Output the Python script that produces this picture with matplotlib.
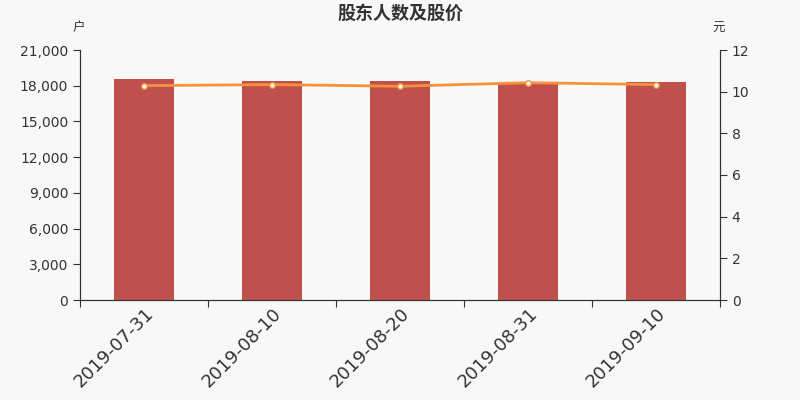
import numpy as np
import matplotlib.pyplot as plt
from matplotlib.ticker import FuncFormatter

plt.rcParams['font.family'] = ['DejaVu Sans', 'Noto Sans CJK SC']

dates = ['2019-07-31', '2019-08-10', '2019-08-20', '2019-08-31', '2019-09-10']
holders = [18560, 18400, 18370, 18250, 18310]
price = [10.29, 10.34, 10.26, 10.43, 10.34]

bg = '#f8f8f8'
axc = '#333333'
cjk = ['Noto Sans CJK SC', 'DejaVu Sans']

fig = plt.figure(figsize=(8, 4), dpi=100, facecolor=bg)
ax = fig.add_axes([0.1, 0.25, 0.8, 0.625])
ax.set_facecolor(bg)
x = np.arange(len(dates))
ax.bar(x, holders, width=0.47, color='#c0504d', zorder=2)
ax.set_xlim(-0.5, len(dates) - 0.5)
ax.set_ylim(0, 21000)
ax.set_yticks(np.arange(0, 21001, 3000))
ax.yaxis.set_major_formatter(FuncFormatter(lambda v, p: f'{int(v):,}'))
ax.set_xticks(np.arange(-0.5, len(dates), 1))
ax.set_xticklabels([])
ax.set_xticks(x, minor=True)
ax.set_xticklabels(dates, minor=True, rotation=45, ha='right', rotation_mode='anchor', fontsize=13, color=axc)
ax.tick_params(axis='x', which='minor', length=0, pad=3)
ax.tick_params(axis='x', which='major', length=5, color=axc)
ax.tick_params(axis='y', length=5, color=axc, labelcolor=axc, labelsize=10)

ax2 = ax.twinx()
ax2.plot(x, price, color='#f7923b', lw=2, marker='o', ms=4, mfc='white', mec='#f7923b', mew=1, zorder=3)
ax2.set_ylim(0, 12)
ax2.set_yticks(np.arange(0, 13, 2))
ax2.tick_params(axis='y', length=5, color=axc, labelcolor=axc, labelsize=10)

for a in (ax, ax2):
    a.spines['top'].set_visible(False)
    for s in ('left', 'right', 'bottom'):
        a.spines[s].set_color(axc)

fig.text(0.5, 0.967, '股东人数及股价', ha='center', va='center', fontsize=13, fontweight='bold', color=axc, family=cjk)
fig.text(0.098, 0.93, '户', ha='center', va='center', fontsize=9, color=axc, family=cjk)
fig.text(0.898, 0.93, '元', ha='center', va='center', fontsize=9, color=axc, family=cjk)

fig.savefig('out.png', facecolor=bg)
